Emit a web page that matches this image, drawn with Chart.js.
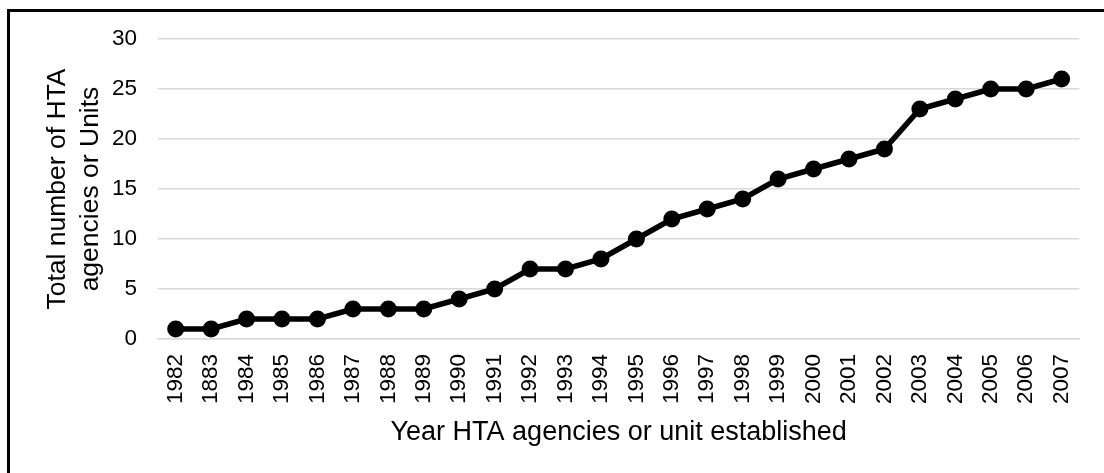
<!DOCTYPE html>
<html>
<head>
<meta charset="utf-8">
<script src="https://cdn.jsdelivr.net/npm/chart.js@4/dist/chart.umd.min.js"></script>
<style>
  html, body { margin: 0; padding: 0; background: #ffffff; overflow: hidden; }
  #wrap { position: relative; width: 1104px; height: 473px; }
</style>
</head>
<body>
<div id="wrap"><canvas id="c" width="1104" height="473"></canvas></div>
<script>
const categories = ["1982","1883","1984","1985","1986","1987","1988","1989","1990","1991","1992","1993","1994","1995","1996","1997","1998","1999","2000","2001","2002","2003","2004","2005","2006","2007"];
const totalAgencies = [1,1,2,2,2,3,3,3,4,5,7,7,8,10,12,13,14,16,17,18,19,23,24,25,25,26];
const yTicks = [0,5,10,15,20,25,30];
const xTitle = "Year HTA agencies or unit established";
const yTitle = ["Total number of HTA", "agencies or Units"];

const frame = {
  id: 'frame',
  afterDraw(chart) {
    const ctx = chart.ctx;
    ctx.save();
    ctx.strokeStyle = '#000000';
    ctx.lineWidth = 3;
    ctx.strokeRect(8.5, 10.5, 2000, 2000);
    ctx.restore();
  }
};

Chart.defaults.font.family = "'Liberation Sans', Arial, sans-serif";
Chart.defaults.color = '#000000';

new Chart(document.getElementById('c'), {
  type: 'line',
  data: {
    labels: categories,
    datasets: [{
      data: totalAgencies,
      borderColor: '#000000',
      backgroundColor: '#000000',
      borderWidth: 5.5,
      pointRadius: 8.5,
      pointBorderWidth: 0,
      pointBackgroundColor: '#000000',
      tension: 0
    }]
  },
  plugins: [frame],
  options: {
    responsive: false,
    animation: false,
    devicePixelRatio: 1,
    layout: { padding: { left: 0, right: 19, top: 39, bottom: 0 } },
    plugins: { legend: { display: false }, tooltip: { enabled: false } },
    scales: {
      x: {
        type: 'category',
        offset: true,
        grid: { display: false, drawTicks: false },
        border: { display: true, color: '#d9d9d9', width: 1.5 },
        ticks: {
          autoSkip: false, maxRotation: 90, minRotation: 90,
          padding: 15, font: { size: 22.5 }, color: '#000000'
        },
        title: {
          display: true, text: xTitle, font: { size: 27, lineHeight: 1.25 },
          color: '#000000', padding: { top: 0, bottom: 24 }
        },
        afterFit(scale) { scale.height = 134; }
      },
      y: {
        min: 0, max: 30,
        afterBuildTicks(scale) { scale.ticks = yTicks.map(v => ({ value: v })); },
        grid: { color: '#d9d9d9', lineWidth: 1.5, drawTicks: false },
        border: { display: false },
        ticks: { padding: 21, font: { size: 22.5 }, color: '#000000' },
        title: {
          display: true, text: yTitle, font: { size: 26.5, lineHeight: 1.25 },
          color: '#000000', padding: { top: 41, bottom: 0 }
        },
        afterFit(scale) { scale.width = 158; }
      }
    }
  }
});
</script>
</body>
</html>
